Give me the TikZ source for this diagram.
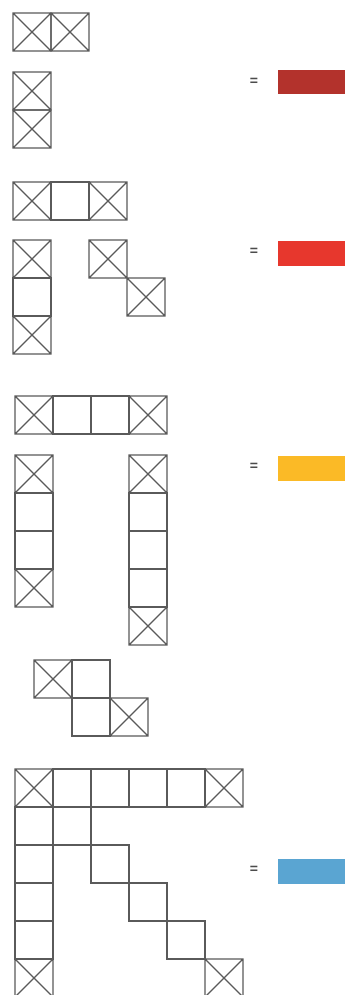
\documentclass[tikz,border=0pt]{standalone}
\usepackage{fontspec}
\setmainfont{Liberation Sans}
\definecolor{cdarkred}{RGB}{179,50,44}
\definecolor{cred}{RGB}{231,55,45}
\definecolor{cyellow}{RGB}{251,186,38}
\definecolor{cblue}{RGB}{90,165,210}
\definecolor{cline}{RGB}{90,90,90}
\newcommand{\plaincell}[2]{\draw[cellline] (#1,#2) rectangle ++(38,38);}
\newcommand{\crosscell}[2]{\draw[cellline] (#1,#2) rectangle ++(38,38) (#1,#2) -- ++(38,38) ++(0,-38) -- ++(-38,38);}
\begin{document}
\begin{tikzpicture}[x=1pt,y=-1pt,
  cellline/.style={draw=cline,line width=1.1pt,line join=miter},
  eqsign/.style={font=\fontsize{14}{16}\selectfont\bfseries,text=black!70,inner sep=0pt}]
\useasboundingbox[fill=white] (0,0) rectangle (345,995);
% group 1
\crosscell{13}{13}\crosscell{51}{13}
\crosscell{13}{72}\crosscell{13}{110}
\node[eqsign] (eq1) at (254,82) {=};
\fill[cdarkred] (278,70) rectangle (345,94);
% group 2
\crosscell{13}{182}\plaincell{51}{182}\crosscell{89}{182}
\crosscell{13}{240}\plaincell{13}{278}\crosscell{13}{316}
\crosscell{89}{240}\crosscell{127}{278}
\node[eqsign] (eq2) at (254,252) {=};
\fill[cred] (278,241) rectangle (345,266);
% group 3
\crosscell{15}{396}\plaincell{53}{396}\plaincell{91}{396}\crosscell{129}{396}
\crosscell{15}{455}\plaincell{15}{493}\plaincell{15}{531}\crosscell{15}{569}
\crosscell{129}{455}\plaincell{129}{493}\plaincell{129}{531}\plaincell{129}{569}\crosscell{129}{607}
\crosscell{34}{660}\plaincell{72}{660}\plaincell{72}{698}\crosscell{110}{698}
\node[eqsign] (eq3) at (254,467) {=};
\fill[cyellow] (278,456) rectangle (345,481);
% group 4
\crosscell{15}{769}\plaincell{53}{769}\plaincell{91}{769}\plaincell{129}{769}\plaincell{167}{769}\crosscell{205}{769}
\plaincell{15}{807}\plaincell{15}{845}\plaincell{15}{883}\plaincell{15}{921}\crosscell{15}{959}
\plaincell{53}{807}\plaincell{91}{845}\plaincell{129}{883}\plaincell{167}{921}\crosscell{205}{959}
\node[eqsign] (eq4) at (254,870) {=};
\fill[cblue] (278,859) rectangle (345,884);
\end{tikzpicture}
\end{document}
